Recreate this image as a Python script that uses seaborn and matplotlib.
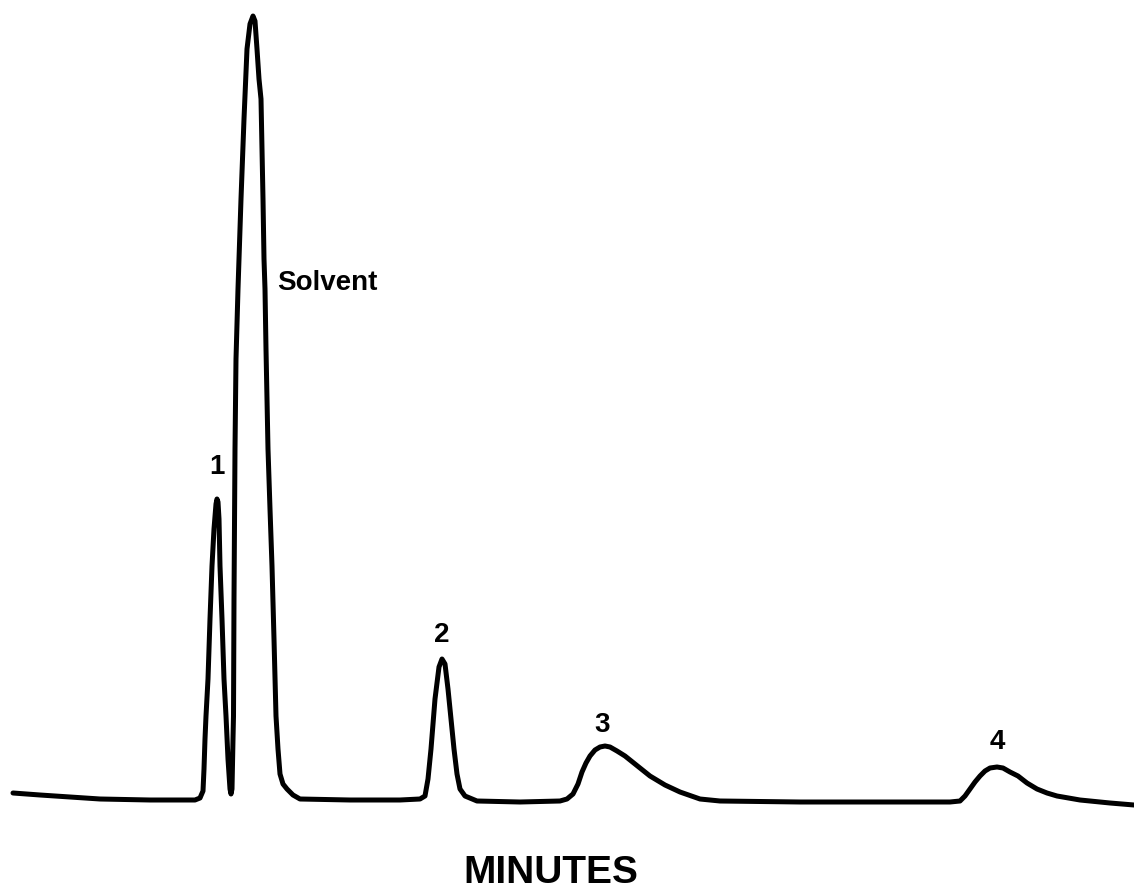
import matplotlib
matplotlib.use("Agg")
import matplotlib.pyplot as plt
import seaborn as sns
import pandas as pd

# Chromatogram trace (arbitrary time units, detector response)
time = [13, 40, 70, 100, 150, 195, 200, 203, 204, 205, 206, 208, 210, 212, 214, 216, 217, 218,
        219, 220, 222, 224, 226, 228, 230, 231, 232, 233, 233.5, 234, 235, 236, 238, 241, 244,
        247, 250, 253, 255, 257, 259, 261, 263, 264, 265, 266, 267, 268, 270, 272, 274, 276,
        278, 280, 283, 287, 293, 300, 350, 400, 420, 425, 428, 431, 435, 439, 442, 445, 448,
        451, 454, 457, 460, 465, 477, 520, 560, 567, 573, 578, 582, 586, 590, 595, 600, 605,
        610, 617, 625, 635, 650, 665, 680, 700, 720, 800, 900, 950, 960, 965, 970, 975, 980,
        985, 990, 997, 1003, 1010, 1018, 1027, 1037, 1047, 1057, 1080, 1110, 1134]
response = [12, 10, 8, 6, 5, 5, 7, 14, 36, 66, 89, 126, 186, 239, 276, 301, 306, 303,
            286, 239, 186, 126, 89, 46, 16, 11, 16, 66, 89, 206, 356, 446, 516, 606, 686,
            756, 781, 789, 784, 756, 726, 706, 606, 546, 516, 456, 406, 356, 296, 239, 166, 89,
            56, 31, 21, 16, 10, 6, 5, 5, 6, 9, 26, 56, 106, 138, 146, 141, 116,
            86, 56, 31, 16, 9, 4, 3, 4, 6, 11, 21, 33, 42, 49, 55, 58, 59,
            58, 54, 49, 41, 29, 20, 13, 6, 4, 3, 3, 3, 4, 9, 16, 23, 29,
            34, 37, 38, 37, 33, 29, 22, 16, 12, 9, 5, 2, 0]

peak_labels = ["1", "Solvent", "2", "3", "4"]
axis_label = "MINUTES"

sns.set_theme(style="white")
plt.rcParams["font.family"] = ["Liberation Sans", "DejaVu Sans"]

df = pd.DataFrame({"time": time, "response": response})

fig = plt.figure(figsize=(11.34, 8.95), dpi=100)
ax = fig.add_axes([0, 0, 1, 1])
sns.lineplot(data=df, x="time", y="response", sort=False, estimator=None,
             color="black", linewidth=3.6, ax=ax)
ax.set_xlim(0, 1134)
ax.set_ylim(806 - 895, 806)
ax.axis("off")

label_pos = [(217, 806 - 467), (277, 806 - 283), (442, 806 - 635), (602, 806 - 725), (997, 806 - 742)]
for lab, (x, y) in zip(peak_labels, label_pos):
    ha = "left" if lab == "Solvent" else "center"
    ax.text(x, y, lab, ha=ha, va="center", fontsize=20, fontweight="bold", color="black")

ax.text(551, 806 - 873, axis_label, ha="center", va="center", fontsize=28,
        fontweight="bold", color="black")

fig.savefig("out.png", dpi=100, facecolor="white")
